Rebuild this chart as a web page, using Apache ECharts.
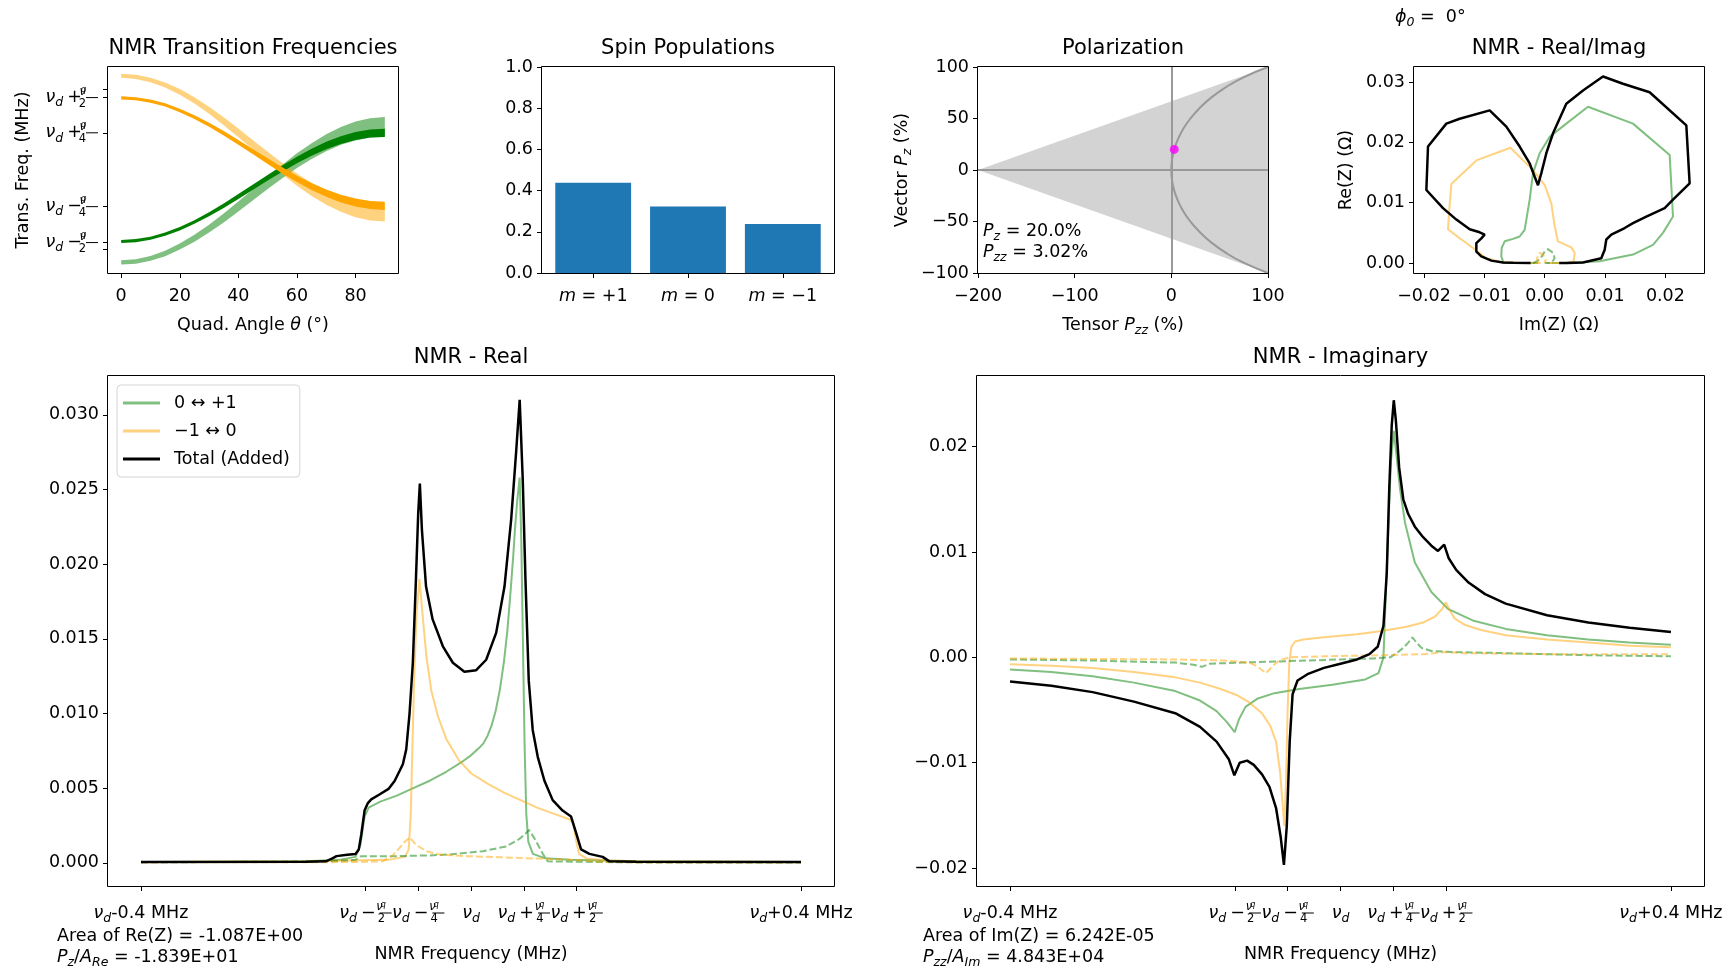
<!DOCTYPE html>
<html>
<head>
<meta charset="utf-8">
<script src="https://cdn.jsdelivr.net/npm/echarts@6/dist/echarts.min.js"></script>
<style>
html,body{margin:0;padding:0;background:#fff;}
#chart{width:1733px;height:966px;}
</style>
</head>
<body>
<div id="chart"></div>
<script>
// ---------------- data ----------------
// Transition frequencies vs quadrupole angle, offset from nu_d in units of nu_q (band edges)
const thetaDeg      = [0, 5, 10, 15, 20, 25, 30, 35, 40, 45, 50, 55, 60, 65, 70, 75, 80, 85, 90];
const lightGreenLo  = [-0.673,-0.667,-0.646,-0.614,-0.567,-0.511,-0.446,-0.374,-0.296,-0.216,-0.136,-0.060,0.012,0.076,0.131,0.177,0.208,0.229,0.234];
const lightGreenHi  = [-0.643,-0.635,-0.612,-0.575,-0.523,-0.461,-0.390,-0.311,-0.226,-0.138,-0.050,0.036,0.116,0.188,0.251,0.304,0.342,0.366,0.374];
const lightOrangeLo = [0.653,0.644,0.621,0.583,0.532,0.470,0.397,0.316,0.230,0.142,0.054,-0.032,-0.113,-0.186,-0.248,-0.299,-0.337,-0.361,-0.368];
const lightOrangeHi = [0.681,0.674,0.653,0.619,0.572,0.515,0.447,0.372,0.292,0.210,0.128,0.048,-0.027,-0.095,-0.152,-0.199,-0.233,-0.256,-0.262];
const darkGreenLo   = [-0.520,-0.514,-0.497,-0.469,-0.431,-0.384,-0.330,-0.271,-0.207,-0.142,-0.077,-0.014,0.046,0.100,0.146,0.183,0.211,0.228,0.233];
const darkGreenHi   = [-0.498,-0.492,-0.475,-0.446,-0.407,-0.358,-0.302,-0.240,-0.173,-0.105,-0.037,0.030,0.092,0.149,0.198,0.237,0.267,0.285,0.291];
const darkOrangeLo  = [0.499,0.493,0.476,0.448,0.408,0.360,0.305,0.243,0.177,0.109,0.041,-0.026,-0.088,-0.144,-0.192,-0.232,-0.261,-0.279,-0.285];
const darkOrangeHi  = [0.521,0.515,0.498,0.471,0.432,0.386,0.333,0.274,0.211,0.146,0.081,0.018,-0.042,-0.095,-0.140,-0.178,-0.205,-0.222,-0.227];
const angleTicks    = [0, 20, 40, 60, 80];
const freqAxisTicks = [0.568, 0.512, 0.262, -0.262, -0.517, -0.564];
const freqAxisLabelVals = [0.512, 0.262, -0.262, -0.517];
// stacked fraction nu_q / n : numerator, subscript q and denominator overlay a bar token
const frac = n => '{fn|ν}{fq|   q}{fd| ' + n + '}{fb| }';
const freqAxisLabels = [
  '{v|ν}{s|d}{op|+}' + frac(2),
  '{v|ν}{s|d}{op|+}' + frac(4),
  '{v|ν}{s|d}{op|−}' + frac(4),
  '{v|ν}{s|d}{op|−}' + frac(2)
];

// Spin populations
const spinStates  = ['{i|m}{t| = +1}', '{i|m}{t| = 0}', '{i|m}{t| = −1}'];
const populations = [0.4383, 0.3233, 0.2383];

// Polarization
const pzNow  = 20.0;
const pzzNow = 3.02;
const coneTensor = [-200, 100, 100];
const coneVector = [0, 100, -100];
const pzGrid   = [-100, -90, -80, -70, -60, -50, -40, -30, -20, -10, 0, 10, 20, 30, 40, 50, 60, 70, 80, 90, 100];
const pzzBound = [100, 74.70, 55.78, 40.94, 29.12, 19.72, 12.38, 6.87, 3.02, 0.75, 0, 0.75, 3.02, 6.87, 12.38, 19.72, 29.12, 40.94, 55.78, 74.70, 100];

// Re/Im parametric traces: [Im(Z), Re(Z)]
const reImTotal = [[-0.00233,0],[-0.00525,0.00006],[-0.00691,0.0001],[-0.00884,0.0004],[-0.0105,0.0011],[-0.01133,0.0019],[-0.01133,0.0033],[-0.0105,0.0041],[-0.00995,0.0047],[-0.01078,0.0051],[-0.01243,0.0056],[-0.01464,0.0072],[-0.01685,0.0091],[-0.01961,0.0121],[-0.01934,0.0193],[-0.0163,0.0231],[-0.01409,0.0239],[-0.00912,0.0253],[-0.00636,0.0226],[-0.00415,0.0193],[-0.00249,0.0165],[-0.00166,0.0143],[-0.00111,0.0129],[-0.00056,0.0149],[0.00027,0.0182],[0.00138,0.0215],[0.00358,0.0264],[0.00635,0.0286],[0.00966,0.0309],[0.01297,0.0297],[0.01739,0.0283],[0.02347,0.0228],[0.02402,0.0132],[0.02126,0.0105],[0.01988,0.0091],[0.01684,0.0077],[0.01463,0.0066],[0.01325,0.0058],[0.01104,0.0047],[0.01021,0.0039],[0.00994,0.0022],[0.00938,0.0008],[0.00635,0.0001],[0.00358,0],[0.0024,0]];
const reImGreen = [[-0.00111,0],[-0.0068,0],[-0.00719,0.0011],[-0.00713,0.0025],[-0.00663,0.0036],[-0.00525,0.0040],[-0.00415,0.0044],[-0.00332,0.0055],[-0.00249,0.0105],[-0.00194,0.0149],[-0.00083,0.0182],[0.00082,0.0209],[0.00358,0.0231],[0.00717,0.0259],[0.01463,0.0231],[0.02071,0.0179],[0.02126,0.0077],[0.0196,0.0050],[0.01795,0.0030],[0.01463,0.0014],[0.00911,0.0003],[0.00358,0],[0.0011,0]];
const reImOrange = [[-0.00067,0],[-0.0047,0.00006],[-0.00746,0.0002],[-0.00967,0.0008],[-0.01188,0.0025],[-0.01409,0.0041],[-0.01602,0.0056],[-0.01586,0.0083],[-0.01547,0.0131],[-0.01133,0.0170],[-0.00569,0.0191],[-0.00194,0.0154],[0.0,0.0129],[0.0011,0.0099],[0.00165,0.0061],[0.0022,0.0036],[0.00441,0.0026],[0.00497,0.0017],[0.0048,0.0003],[0.00358,0],[0.00027,0]];
const reImGreenDash  = [[-0.00194,0],[-0.00083,0.00055],[0.0,0.0019],[0.00055,0.0023],[0.00138,0.0017],[0.00165,0.0008],[0.0011,0],[0.0,0]];
const reImOrangeDash = [[-0.00111,0],[-0.00128,0.0008],[-0.00083,0.0017],[-0.00028,0.0014],[0.00016,0.00055],[0.0,0]];
const imTicks = [-0.02, -0.01, 0, 0.01, 0.02];
const reTicksSmall = [0, 0.01, 0.02, 0.03];

// NMR line shapes vs frequency offset from nu_d (MHz)
const freqTicks = [-0.4, -0.128, -0.064, 0, 0.064, 0.128, 0.4];
const freqTickLabels = [
  '{v|ν}{s|d}{t|-0.4 MHz}',
  '{v|ν}{s|d}{op|−}' + frac(2),
  '{v|ν}{s|d}{op|−}' + frac(4),
  '{v|ν}{s|d}',
  '{v|ν}{s|d}{op|+}' + frac(4),
  '{v|ν}{s|d}{op|+}' + frac(2),
  '{v|ν}{s|d}{t|+0.4 MHz}'
];
const reTicks = [0, 0.005, 0.010, 0.015, 0.020, 0.025, 0.030];
const imagTicks = [-0.02, -0.01, 0, 0.01, 0.02];

const reGreen = [[-0.4,0.00005],[-0.2,0.0001],[-0.16,0.0002],[-0.14,0.0004],[-0.134,0.0012],[-0.129,0.0031],[-0.124,0.0037],[-0.11,0.0041],[-0.09,0.0045],[-0.07,0.0050],[-0.05,0.0055],[-0.03,0.0061],[-0.01,0.0068],[0.0,0.0072],[0.01,0.0077],[0.015,0.0080],[0.02,0.0085],[0.025,0.0092],[0.03,0.0102],[0.035,0.0116],[0.04,0.0135],[0.044,0.0155],[0.048,0.0182],[0.051,0.0204],[0.0535,0.0225],[0.056,0.0242],[0.059,0.0258],[0.061,0.0215],[0.063,0.0145],[0.065,0.0078],[0.067,0.0033],[0.0695,0.0014],[0.075,0.0006],[0.09,0.0003],[0.12,0.0002],[0.2,0.0001],[0.4,0.00005]];
const reOrange = [[-0.4,0.00005],[-0.2,0.0001],[-0.1,0.0002],[-0.08,0.0004],[-0.0755,0.0009],[-0.073,0.0033],[-0.071,0.0078],[-0.069,0.0122],[-0.066,0.0167],[-0.0625,0.0190],[-0.0585,0.0165],[-0.054,0.0138],[-0.048,0.0115],[-0.04,0.0098],[-0.03,0.0083],[-0.015,0.0069],[0,0.0060],[0.02,0.0053],[0.04,0.0047],[0.06,0.0042],[0.08,0.0037],[0.1,0.0033],[0.12,0.0029],[0.124,0.0026],[0.1275,0.0015],[0.131,0.0006],[0.14,0.0003],[0.165,0.00015],[0.2,0.0001],[0.4,0.00005]];
const reTotal = [[-0.4,0.00005],[-0.2,0.00008],[-0.176,0.0001],[-0.168,0.0003],[-0.163,0.00045],[-0.15,0.00055],[-0.14,0.0006],[-0.136,0.0009],[-0.133,0.0019],[-0.129,0.0035],[-0.125,0.0040],[-0.121,0.00425],[-0.111,0.00458],[-0.1,0.00495],[-0.0926,0.00548],[-0.0866,0.00615],[-0.0826,0.0066],[-0.0785,0.0076],[-0.0745,0.0100],[-0.0705,0.0134],[-0.0668,0.0189],[-0.064,0.0234],[-0.062,0.0254],[-0.0595,0.0223],[-0.0545,0.0185],[-0.0465,0.0163],[-0.0341,0.0145],[-0.022,0.0134],[-0.008,0.0128],[0.0063,0.0129],[0.0184,0.0136],[0.0305,0.0154],[0.0406,0.0185],[0.0487,0.0230],[0.0547,0.0275],[0.059,0.0310],[0.0627,0.0257],[0.066,0.0190],[0.070,0.0122],[0.0748,0.0089],[0.0809,0.0071],[0.089,0.0055],[0.099,0.0042],[0.111,0.0035],[0.1213,0.0031],[0.1274,0.0020],[0.1334,0.0009],[0.1435,0.0006],[0.1596,0.0004],[0.1677,0.0001],[0.2,0.00008],[0.4,0.00005]];
const reGreenDash = [[-0.4,0.00003],[-0.17,0.0001],[-0.14,0.0002],[-0.133,0.00045],[-0.09,0.00045],[-0.05,0.0005],[-0.026,0.00056],[0.0143,0.00078],[0.0426,0.0011],[0.0587,0.0016],[0.0668,0.0020],[0.0705,0.0022],[0.0789,0.00145],[0.087,0.0006],[0.093,0.0001],[0.2,0.00003],[0.4,0.00002]];
const reOrangeDash = [[-0.4,0.00003],[-0.15,0.00005],[-0.107,0.0001],[-0.0947,0.0005],[-0.0866,0.001],[-0.0805,0.0014],[-0.0745,0.0017],[-0.0664,0.0012],[-0.0543,0.00078],[-0.0381,0.00056],[-0.0058,0.00045],[0.0345,0.00038],[0.0748,0.00029],[0.1153,0.00022],[0.1354,0.00016],[0.1556,0.00007],[0.2,0.00003],[0.4,0.00002]];

const imGreen = [[-0.4,-0.00115],[-0.35,-0.0014],[-0.3,-0.0018],[-0.25,-0.0024],[-0.2,-0.0032],[-0.17,-0.0041],[-0.15,-0.0051],[-0.138,-0.0061],[-0.128,-0.0071],[-0.123,-0.0059],[-0.115,-0.0047],[-0.1,-0.0039],[-0.08,-0.0034],[-0.05,-0.0030],[-0.01,-0.0026],[0.03,-0.0021],[0.046,-0.0015],[0.052,0.0000],[0.0565,0.0095],[0.061,0.0185],[0.0645,0.0215],[0.068,0.0190],[0.072,0.0160],[0.078,0.0128],[0.09,0.0090],[0.11,0.0062],[0.13,0.0046],[0.16,0.0035],[0.2,0.0027],[0.25,0.0021],[0.3,0.0017],[0.35,0.0014],[0.4,0.0012]];
const imOrange = [[-0.4,-0.00065],[-0.35,-0.0008],[-0.3,-0.001],[-0.25,-0.0014],[-0.2,-0.0019],[-0.17,-0.0024],[-0.145,-0.0030],[-0.125,-0.0036],[-0.11,-0.0043],[-0.095,-0.0053],[-0.085,-0.0065],[-0.078,-0.0080],[-0.073,-0.0110],[-0.0705,-0.0135],[-0.068,-0.0160],[-0.066,-0.0120],[-0.064,-0.0050],[-0.062,-0.0005],[-0.0595,0.0010],[-0.055,0.0015],[-0.045,0.0017],[-0.02,0.0019],[0.02,0.0022],[0.05,0.0025],[0.08,0.0029],[0.1,0.0033],[0.115,0.0039],[0.123,0.0046],[0.1275,0.0052],[0.132,0.0045],[0.138,0.0037],[0.15,0.0031],[0.17,0.0026],[0.2,0.0021],[0.25,0.0017],[0.3,0.0014],[0.35,0.0011],[0.4,0.00095]];
const imTotal = [[-0.4,-0.0023],[-0.35,-0.0027],[-0.3,-0.0033],[-0.25,-0.0042],[-0.2,-0.0053],[-0.17,-0.0066],[-0.15,-0.0080],[-0.135,-0.0097],[-0.1285,-0.0112],[-0.122,-0.0100],[-0.113,-0.0098],[-0.105,-0.0102],[-0.095,-0.0111],[-0.086,-0.0123],[-0.078,-0.0143],[-0.0725,-0.0170],[-0.0685,-0.0197],[-0.065,-0.0160],[-0.0615,-0.0080],[-0.058,-0.0035],[-0.052,-0.0022],[-0.04,-0.0016],[-0.02,-0.0010],[0.0,-0.0006],[0.02,-0.0002],[0.035,0.0003],[0.045,0.0010],[0.052,0.0030],[0.056,0.0080],[0.059,0.0160],[0.062,0.0220],[0.0645,0.0244],[0.067,0.0225],[0.071,0.0180],[0.076,0.0150],[0.082,0.0136],[0.09,0.0124],[0.1,0.0114],[0.11,0.0106],[0.118,0.0101],[0.1255,0.0107],[0.131,0.0094],[0.14,0.0083],[0.155,0.0071],[0.175,0.0060],[0.2,0.0051],[0.25,0.0040],[0.3,0.0033],[0.35,0.0028],[0.4,0.0024]];
const imGreenDash = [[-0.4,-0.0002],[-0.3,-0.0003],[-0.2,-0.0005],[-0.178,-0.0007],[-0.168,-0.0009],[-0.158,-0.0006],[-0.12,-0.0005],[-0.08,-0.0004],[-0.04,-0.0003],[0.0,-0.0002],[0.04,-0.0001],[0.06,0.0],[0.068,0.0004],[0.076,0.0009],[0.082,0.0014],[0.087,0.0019],[0.092,0.0014],[0.098,0.0009],[0.11,0.0006],[0.14,0.0005],[0.2,0.0004],[0.3,0.0002],[0.4,0.0001]];
const imOrangeDash = [[-0.4,-0.0001],[-0.2,-0.0002],[-0.14,-0.0003],[-0.11,-0.0005],[-0.1,-0.0009],[-0.09,-0.0015],[-0.082,-0.0008],[-0.074,-0.0003],[-0.062,0.0],[-0.02,0.0001],[0.05,0.0002],[0.1,0.0003],[0.127,0.0005],[0.15,0.0004],[0.25,0.0003],[0.4,0.0003]];

const areaRe = '-1.087E+00', pzOverARe = '-1.839E+01';
const areaIm = '6.242E-05',  pzzOverAIm = '4.843E+04';
const phi0 = 0;

// ---------------- styling ----------------
const F = 'DejaVu Sans';
const FS = 17.5;
const INK = '#000';
const GREEN = 'rgba(0,128,0,0.5)';
const ORANGE = 'rgba(255,165,0,0.5)';
const RICH = {
  t:  {fontFamily: F, fontSize: FS, lineHeight: 24, color: INK},
  i:  {fontFamily: F, fontSize: FS, fontStyle: 'italic', lineHeight: 24, color: INK},
  v:  {fontFamily: F, fontSize: FS, fontStyle: 'italic', lineHeight: 24, color: INK},
  op: {fontFamily: F, fontSize: FS, lineHeight: 24, color: INK, padding: [0, 4, 0, 4]},
  s:  {fontFamily: F, fontSize: 12.5, fontStyle: 'italic', verticalAlign: 'bottom', lineHeight: 13, color: INK},
  fn: {fontFamily: F, fontSize: 11.5, fontStyle: 'italic', verticalAlign: 'top', lineHeight: 11.5, width: 0.01, color: INK},
  fq: {fontFamily: F, fontSize: 8, fontStyle: 'italic', verticalAlign: 'top', lineHeight: 15, width: 0.01, color: INK},
  fd: {fontFamily: F, fontSize: 11.5, verticalAlign: 'bottom', lineHeight: 11.5, width: 0.01, color: INK},
  fb: {fontSize: 1, lineHeight: 1.2, width: 12, backgroundColor: INK, verticalAlign: 'middle'}
};

// panel rectangles (px)
const BOX = [
  {left: 108,  top: 67,  width: 290, height: 206},  // 0 transition frequencies
  {left: 542,  top: 67,  width: 292, height: 206},  // 1 spin populations
  {left: 978,  top: 67,  width: 290, height: 206},  // 2 polarization
  {left: 1414, top: 67,  width: 290, height: 206},  // 3 real/imag
  {left: 108,  top: 376, width: 726, height: 510},  // 4 real
  {left: 977,  top: 376, width: 727, height: 510}   // 5 imaginary
];
const TITLES = ['NMR Transition Frequencies', 'Spin Populations', 'Polarization', 'NMR - Real/Imag', 'NMR - Real', 'NMR - Imaginary'];

const minus = s => String(s).replace('-', '−');
const fixed = d => v => minus(v.toFixed(d));

function axis(gi, o) {
  return {
    type: 'value', gridIndex: gi, min: o.min, max: o.max,
    axisLine: {show: false, onZero: false}, splitLine: {show: false},
    axisTick: {show: true, customValues: o.ticks, length: 5, lineStyle: {color: INK, width: 1}},
    axisLabel: {show: true, customValues: o.labels || o.ticks, formatter: o.fmt, color: INK,
      fontFamily: F, fontSize: FS, margin: o.margin || 9, hideOverlap: false, rich: RICH},
    name: o.name || '', nameLocation: 'middle', nameGap: o.gap || 30,
    nameTextStyle: {color: INK, fontFamily: F, fontSize: FS, rich: RICH}
  };
}

const freqFmt = v => freqTickLabels[freqTicks.indexOf(v)] || '';
const xAxes = [
  axis(0, {min: -4.5, max: 94.5, ticks: angleTicks, fmt: v => String(v), margin: 14, name: '{t|Quad. Angle }{i|θ}{t| (°)}', gap: 40}),
  axis(1, {min: -0.54, max: 2.54, ticks: [0, 1, 2], fmt: v => spinStates[Math.round(v)], margin: 11}),
  axis(2, {min: -200, max: 100, ticks: [-200, -100, 0, 100], fmt: v => minus(v), margin: 14, name: '{t|Tensor }{i|P}{s|zz}{t| (%)}', gap: 40}),
  axis(3, {min: -0.02166, max: 0.0264, ticks: imTicks, fmt: fixed(2), margin: 14, name: '{t|Im(Z) (Ω)}', gap: 40}),
  axis(4, {min: -0.44, max: 0.44, ticks: freqTicks, fmt: freqFmt, name: 'NMR Frequency (MHz)', gap: 59, margin: 15}),
  axis(5, {min: -0.44, max: 0.44, ticks: freqTicks, fmt: freqFmt, name: 'NMR Frequency (MHz)', gap: 59, margin: 15})
];
const yAxes = [
  axis(0, {min: -0.733, max: 0.729, ticks: freqAxisTicks, labels: freqAxisLabelVals,
           fmt: v => freqAxisLabels[freqAxisLabelVals.indexOf(v)] || '', name: 'Trans. Freq. (MHz)', gap: 76, margin: 10}),
  axis(1, {min: 0, max: 1, ticks: [0, 0.2, 0.4, 0.6, 0.8, 1.0], fmt: fixed(1)}),
  axis(2, {min: -100, max: 100, ticks: [-100, -50, 0, 50, 100], fmt: v => minus(v), name: '{t|Vector }{i|P}{s|z}{t| (%)}', gap: 64}),
  axis(3, {min: -0.00165, max: 0.03248, ticks: reTicksSmall, fmt: fixed(2), name: '{t|Re(Z) (Ω)}', gap: 56}),
  axis(4, {min: -0.00155, max: 0.0326, ticks: reTicks, fmt: fixed(3)}),
  axis(5, {min: -0.0217, max: 0.0267, ticks: imagTicks, fmt: fixed(2)})
];

// ---------------- series ----------------
function band(lo, hi, color) {
  return {
    type: 'custom', xAxisIndex: 0, yAxisIndex: 0, silent: true,
    data: thetaDeg.map((t, i) => [t, lo[i], hi[i]]),
    encode: {x: 0, y: [1, 2]},
    renderItem(params, api) {
      if (params.dataIndex !== 0) return null;
      const upper = thetaDeg.map((t, i) => api.coord([t, hi[i]]));
      const lower = thetaDeg.map((t, i) => api.coord([t, lo[i]])).reverse();
      return {type: 'polygon', shape: {points: upper.concat(lower)}, style: {fill: color}};
    }
  };
}

function line(gi, name, data, color, width, dashed, z) {
  return {
    type: 'line', name, xAxisIndex: gi, yAxisIndex: gi, data,
    symbol: 'none', showSymbol: false, smooth: false, silent: true, z: z || 2,
    color: color, itemStyle: {color: color},
    lineStyle: {color: color, width: width, type: dashed ? [7, 3] : 'solid'}
  };
}

const series = [
  band(lightGreenLo, lightGreenHi, GREEN),
  band(lightOrangeLo, lightOrangeHi, ORANGE),
  band(darkGreenLo, darkGreenHi, '#008000'),
  band(darkOrangeLo, darkOrangeHi, '#FFA500'),

  {
    type: 'bar', xAxisIndex: 1, yAxisIndex: 1, silent: true,
    data: populations.map((p, i) => [i, p]),
    barWidth: BOX[1].width / 3.08 * 0.8,
    itemStyle: {color: '#1f77b4'}
  },

  {
    type: 'custom', xAxisIndex: 2, yAxisIndex: 2, silent: true,
    data: coneTensor.map((x, i) => [x, coneVector[i]]),
    encode: {x: 0, y: 1},
    renderItem(params, api) {
      if (params.dataIndex !== 0) return null;
      const pts = coneTensor.map((x, i) => api.coord([x, coneVector[i]]));
      return {type: 'polygon', shape: {points: pts}, style: {fill: '#d3d3d3'}};
    }
  },
  {
    type: 'line', xAxisIndex: 2, yAxisIndex: 2, silent: true, symbol: 'none', smooth: true,
    data: pzGrid.map((pz, i) => [pzzBound[i], pz]),
    lineStyle: {color: '#999999', width: 2},
    markLine: {
      silent: true, symbol: ['none', 'none'], label: {show: false},
      lineStyle: {color: '#999999', width: 2, type: 'solid'},
      data: [{xAxis: 0}, {yAxis: 0}]
    }
  },
  {
    type: 'scatter', xAxisIndex: 2, yAxisIndex: 2, silent: true, z: 5,
    data: [[pzzNow, pzNow]], symbolSize: 9, itemStyle: {color: '#ff00ff'}
  },

  line(3, 'reim-g', reImGreen, GREEN, 2),
  line(3, 'reim-o', reImOrange, ORANGE, 2),
  line(3, 'reim-gd', reImGreenDash, GREEN, 2, true),
  line(3, 'reim-od', reImOrangeDash, ORANGE, 2, true),
  line(3, 'reim-t', reImTotal, '#000', 2.5, false, 3),

  line(4, '0 ↔ +1', reGreen, GREEN, 2),
  line(4, '−1 ↔ 0', reOrange, ORANGE, 2),
  line(4, 're-gd', reGreenDash, GREEN, 2, true),
  line(4, 're-od', reOrangeDash, ORANGE, 2, true),
  line(4, 'Total (Added)', reTotal, '#000', 2.5, false, 3),

  line(5, '0 ↔ +1', imGreen, GREEN, 2),
  line(5, '−1 ↔ 0', imOrange, ORANGE, 2),
  line(5, 'im-gd', imGreenDash, GREEN, 2, true),
  line(5, 'im-od', imOrangeDash, ORANGE, 2, true),
  line(5, 'Total (Added)', imTotal, '#000', 2.5, false, 3)
];

// ---------------- text & frames ----------------
const graphics = [];
BOX.forEach((b, i) => {
  graphics.push({
    type: 'rect', silent: true, z: 100,
    shape: {x: b.left - 0.5, y: b.top - 0.5, width: b.width + 1, height: b.height + 1},
    style: {fill: 'none', stroke: INK, lineWidth: 1}
  });
  graphics.push({
    type: 'text', silent: true, z: 100, x: b.left + b.width / 2, y: b.top - 18,
    style: {text: TITLES[i], fill: INK, font: '21px "DejaVu Sans"', align: 'center', verticalAlign: 'middle',
            textAlign: 'center', textVerticalAlign: 'middle'}
  });
});
function note(x, y, text) {
  graphics.push({
    type: 'text', silent: true, z: 100, x: x, y: y,
    style: {text: text, rich: RICH, fill: INK, font: FS + 'px "DejaVu Sans"', align: 'left', verticalAlign: 'middle',
            textAlign: 'left', textVerticalAlign: 'middle'}
  });
}
note(1395, 17, '{i|ϕ}{s|0}{t| =  ' + phi0 + '°}');
note(983, 231, '{i|P}{s|z}{t| = ' + pzNow.toFixed(1) + '%}');
note(983, 252, '{i|P}{s|zz}{t| = ' + pzzNow.toFixed(2) + '%}');
note(57, 936, '{t|Area of Re(Z) = ' + areaRe + '}');
note(57, 957, '{i|P}{s|z}{t|/}{i|A}{s|Re}{t| = ' + pzOverARe + '}');
note(923, 936, '{t|Area of Im(Z) = ' + areaIm + '}');
note(923, 957, '{i|P}{s|zz}{t|/}{i|A}{s|Im}{t| = ' + pzzOverAIm + '}');

const chart = echarts.init(document.getElementById('chart'), null, {renderer: 'canvas'});
chart.setOption({
  animation: false,
  backgroundColor: '#ffffff',
  textStyle: {fontFamily: F, color: INK},
  grid: BOX.map(b => Object.assign({show: false, containLabel: false, outerBoundsMode: 'none'}, b)),
  xAxis: xAxes,
  yAxis: yAxes,
  legend: {
    show: true, data: ['0 ↔ +1', '−1 ↔ 0', 'Total (Added)'], orient: 'vertical', selectedMode: false,
    left: 117, top: 385, padding: [8, 10, 8, 6], itemGap: 8, itemWidth: 37, itemHeight: 3, icon: 'rect',
    backgroundColor: 'rgba(255,255,255,0.8)', borderColor: '#d5d5d5', borderWidth: 1, borderRadius: 4,
    textStyle: {fontFamily: F, fontSize: FS, color: INK, lineHeight: 20, padding: [0, 0, 0, 9]}
  },
  series: series,
  graphic: graphics
});
</script>
</body>
</html>
